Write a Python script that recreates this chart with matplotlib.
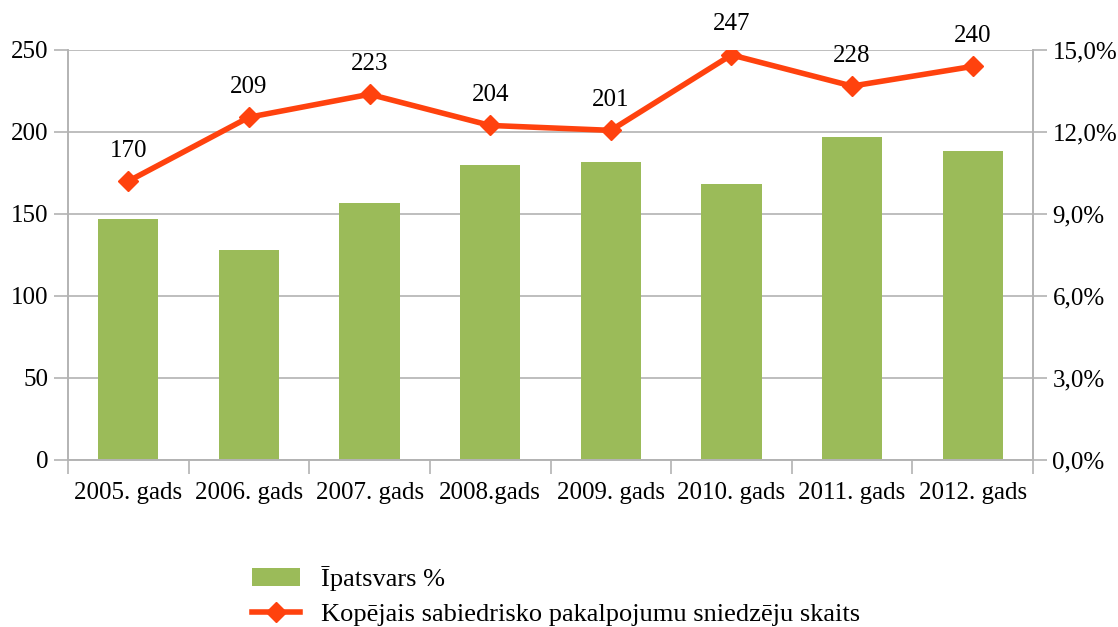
import matplotlib
matplotlib.use("Agg")
import matplotlib.pyplot as plt
import numpy as np

categories = ["2005. gads", "2006. gads", "2007. gads", "2008.gads", "2009. gads",
              "2010. gads", "2011. gads", "2012. gads"]
share_pct = [8.8, 7.7, 9.4, 10.8, 10.9, 10.1, 11.8, 11.3]
providers = [170, 209, 223, 204, 201, 247, 228, 240]
left_ticks = [0, 50, 100, 150, 200, 250]
right_ticks = [0, 3, 6, 9, 12, 15]

plt.rcParams['font.family'] = ['Liberation Serif', 'DejaVu Serif']
FS = 18
FS_LEG = 19

fig = plt.figure(figsize=(11.18, 6.27), dpi=100)
ax = fig.add_axes([68/1118, 1-460/627, (1033-68)/1118, 410/627])
ax2 = ax.twinx()

x = np.arange(len(categories))
green = "#9BBB59"
orange = "#FF420E"
grid_c = "#B3B3B3"

# bars on right axis (percent)
ax2.bar(x, share_pct, width=0.5, color=green, zorder=2, label="Īpatsvars %")
ax2.set_ylim(0, 15)
ax2.set_yticks(right_ticks)
ax2.set_yticklabels([f"{v:.1f}%".replace(".", ",") for v in right_ticks])

# line on left axis, drawn above bars
ax.set_zorder(ax2.get_zorder() + 1)
ax.patch.set_visible(False)
ax2.patch.set_visible(True)
ax2.patch.set_facecolor("white")
ax.plot(x, providers, color=orange, lw=4, marker="D", markersize=10,
        label="Kopējais sabiedrisko pakalpojumu sniedzēju skaits", zorder=3)
for xi, v in zip(x, providers):
    ax.annotate(str(v), (xi, v), xytext=(0, 22), textcoords="offset points",
                ha="center", va="center", fontsize=FS)
ax.set_ylim(0, 250)
ax.set_yticks(left_ticks)
ax.set_xlim(-0.5, len(categories) - 0.5)

# gridlines on ax2 (behind bars)
for t in right_ticks:
    ax2.axhline(t, color=grid_c, lw=1.2, zorder=0)

ax.set_xticks(x)
ax.set_xticklabels(categories, fontsize=FS)
ax.set_xticks(np.arange(len(categories) + 1) - 0.5, minor=True)
ax.tick_params(axis="x", which="major", length=0, pad=16)
ax.tick_params(axis="x", which="minor", length=10, color=grid_c, width=1.2)
ax.tick_params(axis="y", labelsize=FS, length=10, color=grid_c, width=1.2, pad=4)
ax2.tick_params(axis="y", labelsize=FS, length=10, color=grid_c, width=1.2, pad=4)

for a in (ax, ax2):
    for s in ("top",):
        a.spines[s].set_visible(False)
    for s in ("left", "right", "bottom"):
        a.spines[s].set_color(grid_c)
        a.spines[s].set_linewidth(1.2)

h1, l1 = ax2.get_legend_handles_labels()
h2, l2 = ax.get_legend_handles_labels()
fig.legend(h1 + h2, l1 + l2, loc="upper left", bbox_to_anchor=(252/1118, 1-566/627),
           frameon=False, fontsize=FS_LEG, handlelength=1.8, handletextpad=0.8,
           labelspacing=0.45, borderpad=0, borderaxespad=0)

fig.savefig("out.png", dpi=100)
